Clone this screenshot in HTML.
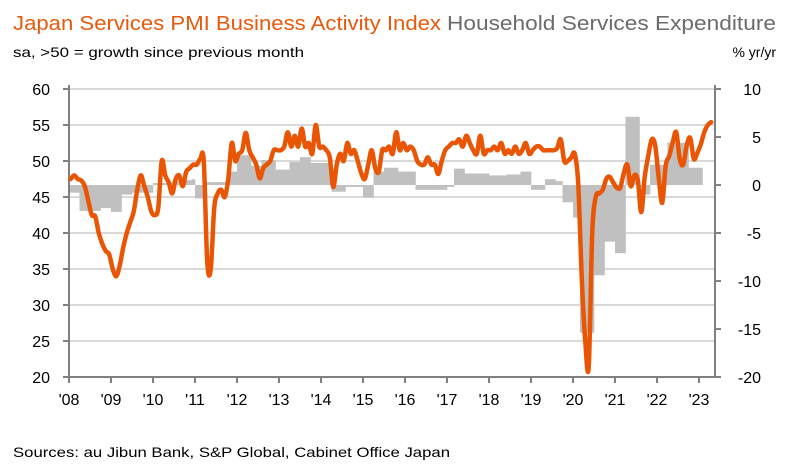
<!DOCTYPE html>
<html><head><meta charset="utf-8"><style>
html,body{margin:0;padding:0;background:#fff;}
svg{display:block;font-family:"Liberation Sans",sans-serif;}
</style></head><body>
<svg id="chart" width="785" height="471" viewBox="0 0 785 471">
<text x="13" y="30" font-size="20" fill="#e8590c" textLength="428" lengthAdjust="spacingAndGlyphs">Japan Services PMI Business Activity Index</text>
<text x="447" y="30" font-size="20" fill="#6b6b6b" textLength="329" lengthAdjust="spacingAndGlyphs">Household Services Expenditure</text>
<text x="13" y="57" font-size="14" fill="#000" textLength="291" lengthAdjust="spacingAndGlyphs">sa, &gt;50 = growth since previous month</text>
<text x="776" y="57" font-size="14" fill="#000" text-anchor="end">% yr/yr</text>
<text x="13" y="457" font-size="14" fill="#000" textLength="437" lengthAdjust="spacingAndGlyphs">Sources: au Jibun Bank, S&amp;P Global, Cabinet Office Japan</text>
<g id="grid"></g><g id="bars"></g><g id="axes"></g><g id="line"></g>
</svg>
<script>
const years = ["'08","'09","'10","'11","'12","'13","'14","'15","'16","'17","'18","'19","'20","'21","'22","'23"];
const leftTicks = [60,55,50,45,40,35,30,25,20];
const rightTicks = [10,5,0,-5,-10,-15,-20];
const pmi2008 = [47.5,48,47.5,47.3,46.5,44.5,42.5,42.3,40,38.5,37.5,37];
const pmi2009 = [35,34,35.5,38,40,41.5,43,46,48,46.5,45,43];
const pmi2010 = [42.5,43.5,50,48,47,45.5,47.5,48,46.5,48.5,49,49.5];
const pmi2011 = [49.5,50.3,50,36,35,43.5,45.5,46,45,47.5,52.5,50];
const pmi2012 = [51,51.5,53.9,51.5,50.5,49.5,47.6,49,49.5,50,51.5,51.5];
const pmi2013 = [51.5,52,54,52,53.5,52,54.5,52,52.5,51,55,52];
const pmi2014 = [52,51.5,50.5,46.4,49.5,51,50,52.5,51,51.5,50,48.3];
const pmi2015 = [47.5,49.5,51.5,49,48.5,51.5,51.5,52,51,54,51.5,52.5];
const pmi2016 = [51.5,52,51.5,50,49.5,49.5,50.5,49.5,49.5,48.2,50,51.5];
const pmi2017 = [52,52.5,52.5,53,52,53.5,52.5,51.5,51,53.5,51,51.5];
const pmi2018 = [51.5,52,51.5,52.5,51,51.5,51,52,51,51.5,52.5,51];
const pmi2019 = [51.5,52,52,51.5,51.5,51.5,51.5,51.8,53,50,50,50.5];
const pmi2020 = [51,46.8,33.8,25,21.5,40,45,45.5,46,47.5,47.8,47];
const pmi2021 = [46.3,46.3,48.3,49.5,46.5,48,47.4,42.9,47.8,50.7,53,52.1];
const pmi2022 = [47.6,44.2,49.4,50.7,52.6,54,50.3,49.5,52.2,53.2,50.3,51.1];
const pmi2023 = [52.3,54,55,55.4];
const hh2008 = [-0.8,-0.8,-0.8,-2.7,-2.7,-2.7,-2.7,-2.7,-2.7,-2.4,-2.4,-2.4];
const hh2009 = [-2.8,-2.8,-2.8,-1,-1,-1,-0.8,-0.8,-0.8,-0.8,-0.8,-0.8];
const hh2010 = [0.2,0.2,0.2,0.2,0.3,0.3,0.3,0.4,0.4,0.5,0.5,0.6];
const hh2011 = [-1.4,-1.4,-1.4,0.3,0.3,0.3,0.3,0.3,0.3,1.4,1.4,1.4];
const hh2012 = [3.1,3.1,3.1,3.1,2,2,2,2.6,2.6,2.6,2.6,1.6];
const hh2013 = [1.6,1.6,1.6,2.4,2.4,2.4,2.9,2.9,2.9,2.3,2.3,2.3];
const hh2014 = [2.3,2.3,2.3,-0.7,-0.7,-0.7,-0.7,-0.2,-0.2,-0.2,-0.2,-0.2];
const hh2015 = [-1.3,-1.3,-1.3,1.4,1.4,1.4,1.8,1.8,1.8,1.8,1.4,1.4];
const hh2016 = [1.4,1.4,1.4,-0.5,-0.5,-0.5,-0.5,-0.5,-0.5,-0.5,-0.5,-0.5];
const hh2017 = [-0.2,-0.2,1.7,1.7,1.7,1.2,1.2,1.2,1.2,1.2,1.2,1.2];
const hh2018 = [1,1,1,1,1,1.1,1.1,1.1,1.1,1.4,1.4,1.4];
const hh2019 = [-0.5,-0.5,-0.5,-0.5,0.6,0.6,0.6,0.4,0.4,-1.8,-1.8,-1.8];
const hh2020 = [-3.4,-3.4,-15.4,-15.4,-15.4,-15.4,-9.4,-9.4,-9.4,-5.9,-5.9,-5.9];
const hh2021 = [-7.1,-7.1,-7.1,7.1,7.1,7.1,7.1,-1,-1,-1,2.1,2.1];
const hh2022 = [2.1,2.1,2.1,4.4,4.4,4.4,4.4,4.4,4.5,1.8,1.8,1.8];
const hh2023 = [1.8];

const pmi = [].concat(pmi2008,pmi2009,pmi2010,pmi2011,pmi2012,pmi2013,pmi2014,pmi2015,pmi2016,pmi2017,pmi2018,pmi2019,pmi2020,pmi2021,pmi2022,pmi2023);
const hh = [].concat(hh2008,hh2009,hh2010,hh2011,hh2012,hh2013,hh2014,hh2015,hh2016,hh2017,hh2018,hh2019,hh2020,hh2021,hh2022,hh2023);

const X0=69, X1=715, MW=3.5, YT=89, YB=377;
const xm = i => X0 + MW*i;
const yl = v => YT + (60-v)*(YB-YT)/40;
const yr = v => YT + (10-v)*(YB-YT)/30;
const NS="http://www.w3.org/2000/svg";
function mk(tag, parent, attrs){const e=document.createElementNS(NS,tag);for(const k in attrs)e.setAttribute(k,attrs[k]);parent.appendChild(e);return e;}
const grid=document.getElementById('grid'), bars=document.getElementById('bars'), axes=document.getElementById('axes'), lineG=document.getElementById('line');

leftTicks.forEach(v=>{
  const g=mk('line',grid,{x1:X0,x2:X1,y1:yl(v),y2:yl(v),stroke:'#d9d9d9','stroke-width':2});
  
  
  const t=mk('line',axes,{x1:X0-6,x2:X0,y1:yl(v),y2:yl(v),stroke:'#808080','stroke-width':2});
  
  
  const l=mk('text',axes,{x:50,y:yl(v)+6,'font-size':16,'text-anchor':'end',fill:'#000'});
  l.textContent=v;
  
  
});
rightTicks.forEach(v=>{
  const t=mk('line',axes,{x1:X1,x2:X1+6,y1:yr(v),y2:yr(v),stroke:'#808080','stroke-width':2});
  
  
  const l=mk('text',axes,{x:761,y:yr(v)+6,'font-size':16,'text-anchor':'end',fill:'#000'});
  l.textContent=v;
  
  
});
years.forEach((y,k)=>{
  const x=X0+42*k;
  const t=mk('line',axes,{x1:x,x2:x,y1:YB,y2:YB+6,stroke:'#808080','stroke-width':2});
  
  
  const l=mk('text',axes,{x:x,y:YB+28,'font-size':16,'text-anchor':'middle',fill:'#000'});
  l.textContent=y;
  
  
});
hh.forEach((v,i)=>{
  const y0=yr(0), y1=yr(v);
  const r=mk('rect',bars,{x:xm(i),y:Math.min(y0,y1),width:MW+0.3,height:Math.max(1,Math.abs(y1-y0)),fill:'#c0c0c0'});
  
  
});
const a1=mk('line',axes,{x1:X0,x2:X0,y1:YT-4,y2:YB+1,stroke:'#808080','stroke-width':2});


const a2=mk('line',axes,{x1:X1,x2:X1,y1:YT-4,y2:YB+1,stroke:'#808080','stroke-width':2});


const a3=mk('line',axes,{x1:X0,x2:X1,y1:YB,y2:YB,stroke:'#808080','stroke-width':2});


const pts=pmi.map((v,i)=>[xm(i)+1.75,yl(v)]);
let d='M'+pts[0][0]+','+pts[0][1];
for(let i=1;i<pts.length;i++){
  const p0=pts[i-2]||pts[i-1], p1=pts[i-1], p2=pts[i], p3=pts[i+1]||pts[i];
  const c1x=p1[0]+(p2[0]-p0[0])/6, c1y=p1[1]+(p2[1]-p0[1])/6;
  const c2x=p2[0]-(p3[0]-p1[0])/6, c2y=p2[1]-(p3[1]-p1[1])/6;
  d+=' C'+c1x+','+c1y+' '+c2x+','+c2y+' '+p2[0]+','+p2[1];
}
const pl=mk('path',lineG,{d:d,fill:'none',stroke:'#ea5504','stroke-width':4.5,'stroke-linejoin':'round','stroke-linecap':'round'});


</script>
</body></html>
